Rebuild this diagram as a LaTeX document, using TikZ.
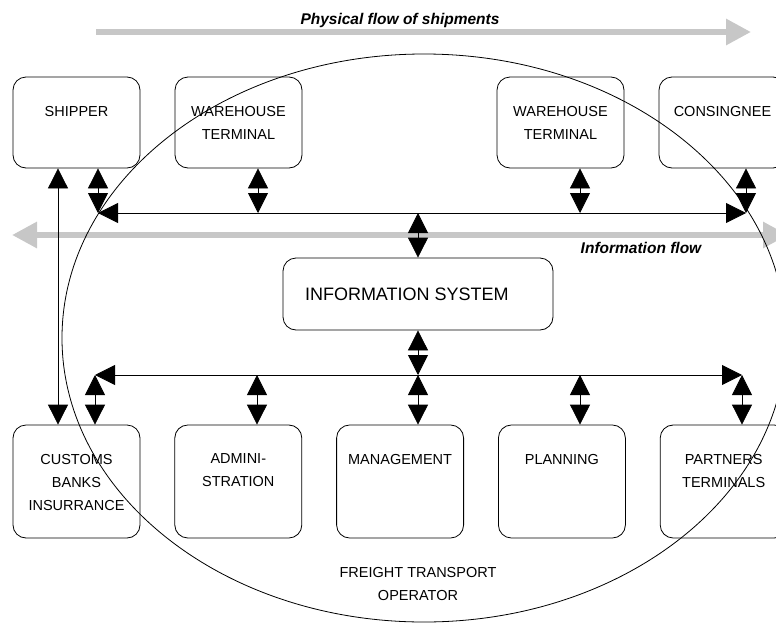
\documentclass[tikz,border=0pt]{standalone}
\usepackage{fontspec}
\setmainfont{Liberation Sans}
\usetikzlibrary{arrows.meta,positioning}

\tikzset{
	unit/.style = {draw, rounded corners = 13pt, minimum width = 127pt, minimum height = 91pt, inner sep = 0pt},
	tall/.style = {unit, minimum height = 113pt},
	lbl/.style = {inner sep = 0pt, align = center, font = \fontsize{14.5}{23}\selectfont},
	flow/.style = {line width = 6pt, black!22},
	heading/.style = {inner sep = 0pt, font = \fontsize{15.5}{18}\selectfont\bfseries\itshape}
}

\begin{document}
\begin{tikzpicture}[x = 1pt, y = -1pt, line width = 0.8pt, > = {Triangle[length = 20pt, width = 20pt]}]

	\useasboundingbox (0, 0) rectangle (776, 624);
	\clip (0, 0) rectangle (776, 624);

	% Grey flow arrows with their titles

	\coordinate (physS) at (96, 32);
	\coordinate (physE) at (751, 32);
	\coordinate (infoS) at (12, 235);
	\coordinate (infoE) at (788, 235);

	\draw [flow, -{Triangle[length = 25pt, width = 25pt]}] (physS) -- (physE);
	\draw [flow, {Triangle[length = 25pt, width = 25pt]}-{Triangle[length = 25pt, width = 25pt]}] (infoS) -- (infoE);

	\node [heading] (physt) at (400, 20) {Physical flow of shipments};
	\node [heading] (infot) at (641, 248) {Information flow};

	% Freight transport operator

	\draw (424, 338) ellipse [x radius = 362, y radius = 284];
	\node [lbl] (fto) at (418, 584) {FREIGHT TRANSPORT\\OPERATOR};

	% Outside parties (top row)

	\node [unit] (ship) at (76.5, 122.5) {};
	\node [unit] (whA) at (238.5, 122.5) {};
	\node [unit] (whB) at (560.5, 122.5) {};
	\node [unit] (cons) at (722.5, 122.5) {};

	\node [lbl, below = 29pt of ship.north] (shipt) {SHIPPER};
	\node [lbl, below = 29pt of whA.north] (whAt) {WAREHOUSE\\TERMINAL};
	\node [lbl, below = 29pt of whB.north] (whBt) {WAREHOUSE\\TERMINAL};
	\node [lbl, below = 29pt of cons.north] (const) {CONSINGNEE};

	% Departments (bottom row)

	\node [tall] (cust) at (76.5, 481.5) {};
	\node [tall, right = 34pt of cust] (admin) {};
	\node [tall, right = 34pt of admin] (mgmt) {};
	\node [tall, right = 34pt of mgmt] (plan) {};
	\node [tall, right = 34pt of plan] (part) {};

	\node [lbl, below = 29pt of cust.north] (custt) {CUSTOMS\\BANKS\\INSURRANCE};
	\node [lbl, below = 29pt of admin.north] (admint) {ADMINI-\\STRATION};
	\node [lbl, below = 29pt of mgmt.north] (mgmtt) {MANAGEMENT};
	\node [lbl, below = 29pt of plan.north] (plant) {PLANNING};
	\node [lbl, below = 29pt of part.north] (partt) {PARTNERS\\TERMINALS};

	% Information system

	\node [draw, rounded corners = 13pt, minimum width = 270pt, minimum height = 72pt] (infosys) at (418, 294) {};
	\node [lbl, font = \fontsize{18}{22}\selectfont, right = 22pt of infosys.west] (infosyst) {INFORMATION SYSTEM};

	% Upper information bus

	\coordinate (uA) at (98, 213);
	\coordinate (uB) at (258, 213);
	\coordinate (uC) at (418, 213);
	\coordinate (uD) at (580, 213);
	\coordinate (uE) at (746, 213);

	\draw [<->] (uA) -- (uE);
	\foreach \n/\t in {ship/uA, whA/uB, whB/uD, cons/uE}
		\draw [<->] (\n.south -| \t) -- (\t);
	\draw [<->] (infosys.north) -- (uC);

	% Lower information bus

	\coordinate (lA) at (95, 375);
	\coordinate (lB) at (257, 375);
	\coordinate (lC) at (418, 375);
	\coordinate (lD) at (580, 375);
	\coordinate (lE) at (742, 375);

	\draw [<->] (lA) -- (lE);
	\foreach \n/\t in {cust/lA, admin/lB, mgmt/lC, plan/lD, part/lE}
		\draw [<->] (\t) -- (\n.north -| \t);
	\draw [<->] (infosys.south) -- (lC);

	% Shipper to customs

	\coordinate (sc) at (58, 300);
	\draw [<->] (ship.south -| sc) -- (cust.north -| sc);

\end{tikzpicture}
\end{document}
